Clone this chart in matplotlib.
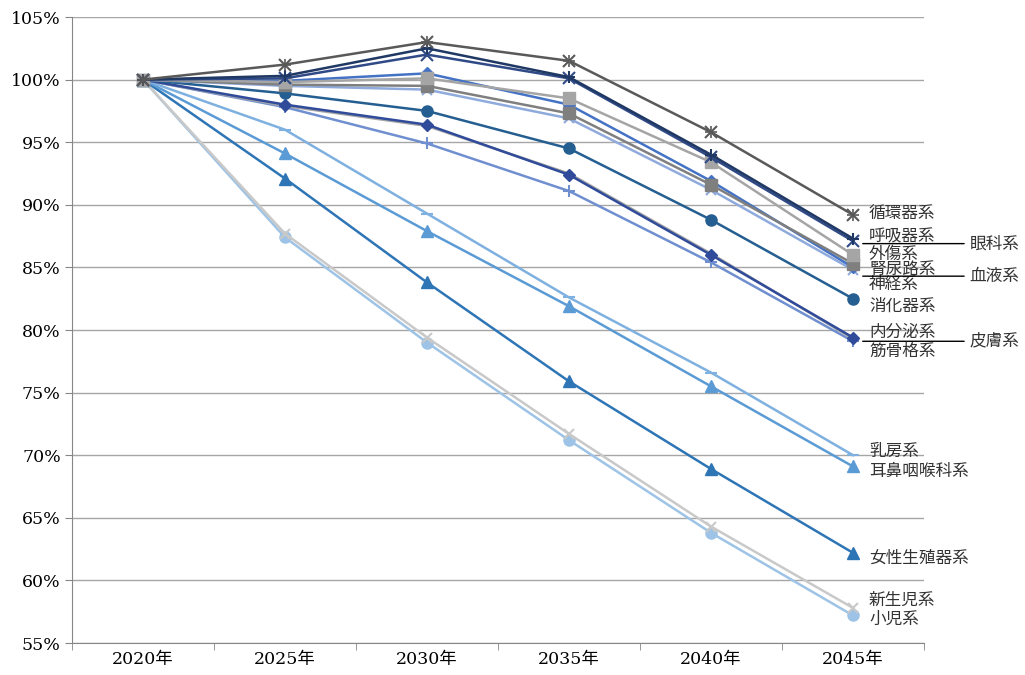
import matplotlib
matplotlib.use("Agg")
import matplotlib.pyplot as plt
from matplotlib.ticker import FuncFormatter, FixedLocator

plt.rcParams['font.family'] = ['DejaVu Serif', 'Noto Sans CJK JP', 'DejaVu Sans']

years = ['2020年', '2025年', '2030年', '2035年', '2040年', '2045年']

# index (2020 = 100%)
junkanki = [100, 101.2, 103.0, 101.5, 95.8, 89.2]
kokyuki = [100, 100.3, 102.5, 100.2, 94.0, 87.3]
ganka = [100, 100.1, 102.0, 100.1, 93.8, 87.1]
gaisho = [100, 99.8, 100.1, 98.5, 93.4, 86.0]
jinnyoro = [100, 99.6, 99.5, 97.3, 91.6, 85.3]
ketsueki = [100, 99.9, 100.5, 98.0, 91.9, 85.0]
shinkei = [100, 99.5, 99.2, 96.9, 91.2, 84.8]
shokaki = [100, 98.9, 97.5, 94.5, 88.8, 82.5]
naibunpi = [100, 98.0, 96.4, 92.4, 86.0, 79.4]
hifu = [100, 97.9, 96.3, 92.5, 86.1, 79.3]
kinkokkaku = [100, 97.8, 94.9, 91.1, 85.4, 79.1]
nyubo = [100, 96.0, 89.3, 82.6, 76.6, 70.0]
jibi = [100, 94.1, 87.9, 81.9, 75.5, 69.1]
josei = [100, 92.1, 83.8, 75.9, 68.9, 62.2]
shinseiji = [100, 87.7, 79.4, 71.7, 64.3, 57.8]
shoni = [100, 87.4, 79.0, 71.2, 63.8, 57.2]

names = ['循環器系', '呼吸器系', '眼科系', '外傷系', '腎尿路系', '血液系', '神経系',
         '消化器系', '内分泌系', '皮膚系', '筋骨格系', '乳房系', '耳鼻咽喉科系',
         '女性生殖器系', '新生児系', '小児系']
series = [junkanki, kokyuki, ganka, gaisho, jinnyoro, ketsueki, shinkei, shokaki,
          naibunpi, hifu, kinkokkaku, nyubo, jibi, josei, shinseiji, shoni]

colors = ['#595959', '#1F3864', '#2F4A86', '#A5A5A5', '#7F7F7F', '#4472C4', '#8FAADC',
          '#255E91', '#2F4B9A', '#A5A5A5', '#6F8FD0', '#7EB0E0', '#5B9BD5',
          '#2E75B6', '#C9C9C9', '#9DC3E6']
markers = ['x', '+', 'x', 's', 's', 'D', 'x', 'o', 'D', '', '+', '_', '^', '^', 'x', 'o']
msizes = [8, 8, 8, 8, 8, 6, 7, 8, 6, 0, 8, 8, 8, 8, 7, 8]

# label placement (value where text sits, right of last point)
label_y = [89.3, 87.45, None, 86.05, 84.8, None, 83.6, 81.9, 79.8, None, 78.3,
           70.3, 68.7, 61.8, 58.4, 56.9]
leader_y = {'眼科系': 86.9, '血液系': 84.3, '皮膚系': 79.1}

fig = plt.figure(figsize=(10.25, 6.75), dpi=100)
ax = fig.add_axes([0.0702, 0.0474, 0.8313, 0.9274])

x = list(range(len(years)))
for i in list(range(len(series)))[::-1]:
    ax.plot(x, series[i], color=colors[i], lw=1.8, marker=markers[i] or None,
            ms=msizes[i], mew=1.5 if markers[i] in ('x', '+', '_') else 1,
            zorder=3 + (len(series) - i) * 0.1)
# asterisk for 循環器系
ax.plot(x, junkanki, color=colors[0], lw=0, marker='+', ms=9, mew=1.2, zorder=5)

jp = ['Noto Sans CJK JP']
for name, ly in zip(names, label_y):
    if ly is None:
        continue
    ax.annotate(name, xy=(5, ly), xytext=(11.5, 0), textcoords='offset points',
                va='center', ha='left', fontsize=12, color='#333333',
                family=jp, annotation_clip=False)

for name, ly in leader_y.items():
    ax.annotate(name, xy=(5, ly), xytext=(84, 0), textcoords='offset points',
                va='center', ha='left', fontsize=12, color='#333333',
                family=jp, annotation_clip=False,
                arrowprops=dict(arrowstyle='-', color='black', lw=1,
                                shrinkA=2, shrinkB=7, relpos=(0, 0.5)))

ax.set_xlim(-0.5, 5.5)
ax.set_ylim(55, 105)
ax.set_yticks(range(55, 106, 5))
ax.yaxis.set_major_formatter(FuncFormatter(lambda v, p: f'{v:.0f}%'))
ax.set_xticks(x)
ax.set_xticklabels(years)
ax.xaxis.set_minor_locator(FixedLocator([i - 0.5 for i in range(len(years) + 1)]))
ax.tick_params(axis='x', which='major', length=0, labelsize=12.5, pad=6)
ax.tick_params(axis='x', which='minor', length=5, color='#868686', direction='out')
ax.tick_params(axis='y', length=5, color='#868686', labelsize=12.5, direction='out', pad=3)
ax.grid(axis='y', color='#A6A6A6', lw=1)
ax.set_axisbelow(True)
for s in ['top', 'right']:
    ax.spines[s].set_visible(False)
for s in ['left', 'bottom']:
    ax.spines[s].set_color('#868686')

fig.savefig('out.png', dpi=100)
